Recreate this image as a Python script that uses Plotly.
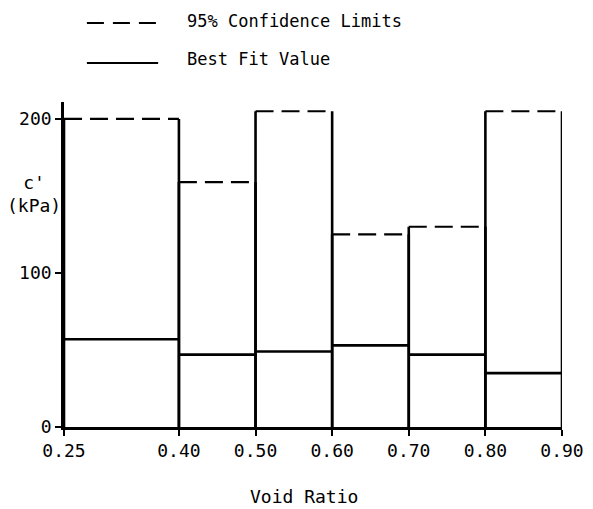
import plotly.graph_objects as go

# Void ratio interval boundaries
void_lo = [0.25, 0.40, 0.50, 0.60, 0.70, 0.80]
void_hi = [0.40, 0.50, 0.60, 0.70, 0.80, 0.90]
# 95% confidence upper limits of c' (kPa)
upper_limit = [200, 159, 205, 125, 130, 205]
# Best fit values of c' (kPa)
best_fit = [57, 47, 49, 53, 47, 35]

x_ticks = [0.25, 0.40, 0.50, 0.60, 0.70, 0.80, 0.90]
x_tick_text = ["0.25", "0.40", "0.50", "0.60", "0.70", "0.80", "0.90"]
y_ticks = [0, 100, 200]
y_tick_text = ["0", "100", "200"]

FONT = "DejaVu Sans Mono"
LW = 2.6

fig = go.Figure()

for lo, hi, up, bf in zip(void_lo, void_hi, upper_limit, best_fit):
    # vertical sides of the interval box
    fig.add_trace(go.Scatter(x=[lo, lo, None, hi, hi], y=[0, up, None, 0, up],
                             mode="lines", line=dict(color="black", width=LW),
                             showlegend=False, hoverinfo="skip"))
    # dashed confidence limit
    fig.add_trace(go.Scatter(x=[lo, hi], y=[up, up], mode="lines",
                             line=dict(color="black", width=2.2, dash="18px,8px"),
                             showlegend=False, hoverinfo="skip"))
    # best fit value
    fig.add_trace(go.Scatter(x=[lo, hi], y=[bf, bf], mode="lines",
                             line=dict(color="black", width=LW),
                             showlegend=False, hoverinfo="skip"))

# Manual legend
fig.add_shape(type="line", xref="paper", yref="paper", x0=0.046, x1=0.189, y0=1.243, y1=1.243,
              line=dict(color="black", width=2, dash="17px,9px"))
fig.add_shape(type="line", xref="paper", yref="paper", x0=0.046, x1=0.189, y0=1.12, y1=1.12,
              line=dict(color="black", width=2.2))
fig.add_annotation(text="95% Confidence Limits", xref="paper", yref="paper", x=0.243, y=1.248,
                   xanchor="left", yanchor="middle", showarrow=False,
                   font=dict(family=FONT, size=17, color="black"))
fig.add_annotation(text="Best Fit Value", xref="paper", yref="paper", x=0.243, y=1.133,
                   xanchor="left", yanchor="middle", showarrow=False,
                   font=dict(family=FONT, size=17, color="black"))

# Axis titles
fig.add_annotation(text="c'<br>(kPa)", xref="paper", yref="paper", x=-0.06, y=0.717,
                   xanchor="center", yanchor="middle", showarrow=False,
                   font=dict(family=FONT, size=18, color="black"))
fig.add_annotation(text="Void Ratio", xref="paper", yref="paper", x=0.482, y=-0.215,
                   xanchor="center", yanchor="middle", showarrow=False,
                   font=dict(family=FONT, size=18, color="black"))

fig.update_layout(
    width=585, height=501,
    margin=dict(l=56, r=31, t=94, b=82, autoexpand=False),
    plot_bgcolor="white", paper_bgcolor="white",
    font=dict(family=FONT, size=18, color="black"),
    showlegend=False,
)
fig.update_xaxes(range=[0.25, 0.90], tickvals=x_ticks, ticktext=x_tick_text,
                 showgrid=False, zeroline=False, showline=True, linecolor="black", linewidth=LW,
                 ticks="outside", ticklen=6, tickwidth=2, tickcolor="black")
fig.update_yaxes(range=[0, 211], tickvals=y_ticks, ticktext=y_tick_text,
                 showgrid=False, zeroline=False, showline=True, linecolor="black", linewidth=LW,
                 ticks="outside", ticklen=6, tickwidth=2, tickcolor="black")

fig.write_html("out.html")
